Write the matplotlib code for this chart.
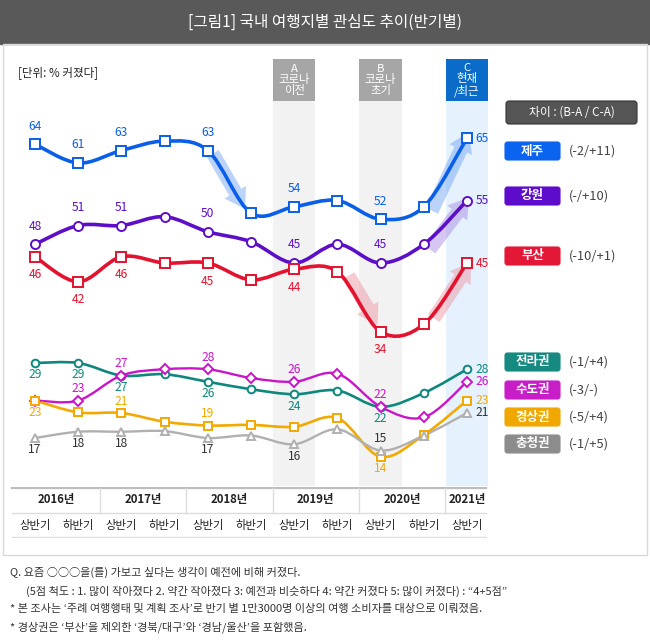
import numpy as np
import matplotlib
matplotlib.use('Agg')
import matplotlib.pyplot as plt
import matplotlib.transforms as mtransforms
from matplotlib.path import Path
from matplotlib.patches import PathPatch, Rectangle, FancyBboxPatch, FancyArrowPatch

plt.rcParams['font.family'] = ['Noto Sans CJK KR', 'DejaVu Sans']

# 데이터 (단위: % 커졌다)
years = ['2016년', '2017년', '2018년', '2019년', '2020년', '2021년']
halves = ['상반기', '하반기', '상반기', '하반기', '상반기', '하반기',
          '상반기', '하반기', '상반기', '하반기', '상반기']
names = ['제주', '강원', '부산', '전라권', '수도권', '경상권', '충청권']
diffs = ['(-2/+11)', '(-/+10)', '(-10/+1)', '(-1/+4)', '(-3/-)', '(-5/+4)', '(-1/+5)']

jeju = [64, 61, 63, 64.5, 63, 53, 54, 55, 52, 54, 65]
gangwon = [48, 51, 51, 52.4, 50, 48.4, 45, 48, 45, 48, 55]
busan = [46, 42, 46, 45, 45, 42.3, 44, 43.6, 34, 35.2, 45]
jeolla = [29, 29, 27, 27.2, 26, 24.8, 24, 24.6, 22, 24.2, 28]
sudo = [23, 23, 27, 28, 28, 26.6, 26, 27.3, 22, 20.3, 26]
gyeong = [23, 21.1, 21, 19.6, 19, 19.1, 18.8, 20.2, 14, 17.5, 23]
chung = [17, 18, 18, 18.1, 17, 17.4, 16, 18.4, 15, 17.4, 21]

# 값 표시 위치 (a: 위, b: 아래)
jeju_lab = {0: 'a', 1: 'a', 2: 'a', 4: 'a', 6: 'a', 8: 'a'}
gangwon_lab = {0: 'a', 1: 'a', 2: 'a', 4: 'a', 6: 'a', 8: 'a'}
busan_lab = {0: 'b', 1: 'b', 2: 'b', 4: 'b', 6: 'b', 8: 'b'}
jeolla_lab = {0: 'b', 1: 'b', 2: 'b', 4: 'b', 6: 'b', 8: 'b'}
sudo_lab = {1: 'a', 2: 'a', 4: 'a', 6: 'a', 8: 'a'}
gyeong_lab = {0: 'b', 2: 'a', 4: 'a', 8: 'b'}
chung_lab = {0: 'b', 1: 'b', 2: 'b', 4: 'b', 6: 'b', 8: 'a'}

series = [
    # values, labels, line color, text color, legend color, marker, ms, lw, offset
    (jeju, jeju_lab, '#0a5fe8', '#0a5fe8', '#0a64f0', 's', 6.5, 2.6, 13),
    (gangwon, gangwon_lab, '#5c0fc7', '#5c0fc7', '#5d0ccc', 'o', 6.5, 2.6, 13),
    (busan, busan_lab, '#e3122f', '#e3122f', '#e31837', 's', 6.5, 2.6, 13),
    (jeolla, jeolla_lab, '#0f877c', '#0f877c', '#148a80', 'o', 5.5, 1.9, 8.5),
    (sudo, sudo_lab, '#c914c9', '#c914c9', '#c81ec8', 'D', 4.8, 1.7, 8.5),
    (gyeong, gyeong_lab, '#f2a900', '#f2a900', '#f0a800', 's', 5.5, 1.9, 8.5),
    (chung, chung_lab, '#b0b0b0', '#333333', '#8c8c8c', '^', 5.5, 1.7, 8.5),
]

# 화살표 (시리즈, 시작, 끝, 시작 오프셋 px, 끝 오프셋 px, 색)
arrows = [
    (0, 4, 5, (5, 3), (-6, -4), '#6a9ff2'),
    (0, 9, 10, (8, 4), (2, -6), '#6a9ff2'),
    (1, 9, 10, (6, 5), (2, -3), '#a283e4'),
    (2, 7, 8, (11, 4), (-3, -7), '#ec8f9d'),
    (2, 9, 10, (10, -6), (4, -1), '#ec8f9d'),
]

x = np.arange(len(halves))
PX_X = 43.2   # 한 칸 px
PX_Y = 6.25   # 1% px


def smooth(xs, ys, k=6.0):
    pts = np.column_stack([xs, ys]).astype(float)
    n = len(pts)
    verts = [pts[0]]
    codes = [Path.MOVETO]
    for i in range(n - 1):
        p0 = pts[max(i - 1, 0)]
        p1 = pts[i]
        p2 = pts[i + 1]
        p3 = pts[min(i + 2, n - 1)]
        verts += [p1 + (p2 - p0) / k, p2 - (p3 - p1) / k, p2]
        codes += [Path.CURVE4] * 3
    return Path(verts, codes)


fig = plt.figure(figsize=(6.5, 6.4), dpi=100)

# 배경 장식용 (px 좌표)
deco = fig.add_axes([0, 0, 1, 1])
deco.set_xlim(0, 650)
deco.set_ylim(640, 0)
deco.axis('off')

deco.add_patch(Rectangle((0, 0), 650, 44, color='#595959', zorder=0))
deco.text(325, 22, '[그림1] 국내 여행지별 관심도 추이(반기별)', color='white',
          fontsize=11.3, ha='center', va='center')
deco.add_patch(Rectangle((3, 44), 644, 511, fill=False, ec='#d9d9d9', lw=1))
deco.text(18, 73, '[단위: % 커졌다]', fontsize=8.3, va='center', color='#222222')

# 범례
deco.add_patch(FancyBboxPatch((506, 101), 131, 23, boxstyle='round,pad=0,rounding_size=3',
                              fc='#555555', ec='#333333', lw=0.8))
deco.text(571.5, 112.5, '차이 : (B-A / C-A)', color='white', fontsize=8.5,
          ha='center', va='center')
leg_y = [151, 196, 256, 362, 390, 417, 444]
for (s, nm, df, yc) in zip(series, names, diffs, leg_y):
    deco.add_patch(FancyBboxPatch((505, yc - 9), 55, 18, boxstyle='round,pad=0,rounding_size=2.5',
                                  fc=s[4], ec=s[4], lw=0.8))
    deco.text(532.5, yc, nm, color='white', fontsize=9, fontweight='bold',
              ha='center', va='center')
    deco.text(569, yc, df, color='#444444', fontsize=9.3, va='center')

# 각주
notes = [
    (10, 572, 'Q. 요즘 ○○○을(를) 가보고 싶다는 생각이 예전에 비해 커졌다.'),
    (26, 591, '(5점 척도 : 1. 많이 작아졌다 2. 약간 작아졌다 3: 예전과 비슷하다 4: 약간 커졌다 5: 많이 커졌다) : “4+5점”'),
    (10, 609, '* 본 조사는 ‘주례 여행행태 및 계획 조사’로 반기 별 1만3000명 이상의 여행 소비자를 대상으로 이뤄졌음.'),
    (10, 627, '* 경상권은 ‘부산’을 제외한 ‘경북/대구’와 ‘경남/울산’을 포함했음.'),
]
for nx, ny, t in notes:
    deco.text(nx, ny, t, fontsize=8, va='center', color='#333333')

# 메인 차트
ax = fig.add_axes([10 / 650, 1 - 486 / 640, 480 / 650, 385 / 640])
ax.set_xlim((10 - 35) / PX_X, (490 - 35) / PX_X)
ax.set_ylim(65 - (486 - 138) / PX_Y, 65 + (138 - 101) / PX_Y)
ax.axis('off')
ax.patch.set_alpha(0)

bands = [(6, '#f2f2f2', '#a6a6a6', 'A\n코로나\n이전'),
         (8, '#f2f2f2', '#a6a6a6', 'B\n코로나\n초기'),
         (10, '#e5f2fd', '#0a6cc8', 'C\n현재\n/최근')]
trans = mtransforms.blended_transform_factory(ax.transData, ax.transAxes)
for bi, bc, hc, txt in bands:
    ax.axvspan(bi - 0.49, bi + 0.49, color=bc, zorder=0, lw=0)
    ax.add_patch(Rectangle((bi - 0.49, 1.0), 0.98, 42 / 385, transform=trans,
                           color=hc, clip_on=False, lw=0))
    ax.text(bi, 1.0 + 21 / 385, txt, transform=trans, color='white', fontsize=8.2,
            ha='center', va='center', linespacing=1.05, clip_on=False)

for si, a0, a1, o0, o1, col in arrows:
    vals = series[si][0]
    p0 = (x[a0] + o0[0] / PX_X, vals[a0] - o0[1] / PX_Y)
    p1 = (x[a1] + o1[0] / PX_X, vals[a1] - o1[1] / PX_Y)
    ax.add_patch(FancyArrowPatch(p0, p1, arrowstyle='simple,head_width=18,head_length=14,tail_width=10',
                                 mutation_scale=1, shrinkA=0, shrinkB=0,
                                 color=col, alpha=0.45, lw=0, zorder=1))

for vals, labs, lc, tc, _, mk, ms, lw, off in series:
    ax.add_patch(PathPatch(smooth(x, vals), fill=False, ec=lc, lw=lw, zorder=3,
                           capstyle='round', joinstyle='round'))
    ax.plot(x, vals, ls='none', marker=mk, ms=ms, mfc='white', mec=lc, mew=1.4, zorder=4)
    for i, side in labs.items():
        dy = off if side == 'a' else -off
        ax.annotate(f'{vals[i]:g}', (x[i], vals[i]), xytext=(0, dy), textcoords='offset points',
                    ha='center', va='center', fontsize=8.7, color=tc, zorder=5)
    ax.annotate(f'{vals[-1]:g}', (x[-1], vals[-1]), xytext=(6, 0), textcoords='offset points',
                ha='left', va='center', fontsize=8.7, color=tc, zorder=5)

# 하단 표
tb = fig.add_axes([10 / 650, 1 - 538 / 640, 480 / 650, 51 / 640])
tb.set_xlim(ax.get_xlim())
tb.set_ylim(0, 1)
tb.axis('off')
tb.patch.set_alpha(0)
left, right = -0.53, 10.45
tb.plot([left, right], [0.98, 0.98], color='#bdbdbd', lw=1.6)
tb.plot([left, right], [0.5, 0.5], color='#dddddd', lw=1)
tb.plot([left, right], [0.02, 0.02], color='#dddddd', lw=1)
for sep in [1.5, 3.5, 5.5, 7.5, 9.5]:
    tb.plot([sep, sep], [0.5, 0.98], color='#dddddd', lw=1)
year_pos = [0.5, 2.5, 4.5, 6.5, 8.5, 10]
for yp, yr in zip(year_pos, years):
    tb.text(yp, 0.75, yr, ha='center', va='center', fontsize=8.2, fontweight='bold', color='#222222')
for xi, h in zip(x, halves):
    tb.text(xi, 0.25, h, ha='center', va='center', fontsize=8.2, color='#222222')

fig.savefig('out.png', dpi=100)
